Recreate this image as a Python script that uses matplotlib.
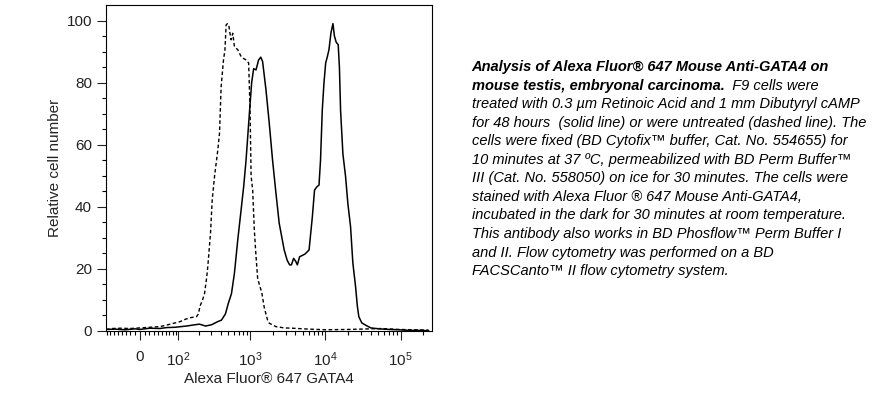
import numpy as np
import matplotlib
matplotlib.use("Agg")
import matplotlib.pyplot as plt

plt.rcParams['font.family'] = ['Liberation Sans', 'DejaVu Sans']
plt.rcParams['mathtext.fontset'] = 'custom'
plt.rcParams['mathtext.rm'] = 'Liberation Sans'
plt.rcParams['mathtext.it'] = 'Liberation Sans:italic'

# Treated cells (solid line): fluorescence intensity vs relative cell number
solid_x = [-84, -57, -32, -10, 0, 21, 44, 62, 88, 134, 175, 206, 250, 301, 364, 411,
           465, 510, 560, 614, 680, 754, 816, 878, 972, 1043, 1109, 1193, 1290, 1380,
           1459, 1618, 1790, 1979, 2197, 2428, 2829, 3097, 3344, 3532, 3775, 4012,
           4237, 4533, 4896, 5363, 6062, 6706, 7168, 7737, 8223, 8612, 9091, 9577,
           10085, 10650, 11153, 11853, 12604, 13186, 13930, 14805, 15363, 15925,
           17101, 18565, 19915, 21617, 23180, 25200, 26620, 27853, 30530, 34180,
           40160, 51270, 69560, 94380, 128044, 173740, 235700]
solid_y = [0.5, 0.6, 0.4, 0.7, 0.5, 0.9, 0.8, 1.1, 1.2, 1.6, 2.0, 2.2, 1.6, 2.0, 3.0, 3.5,
           5.5, 9.0, 12.0, 18.6, 29.3, 39.0, 46.5, 55.0, 70.0, 80.0, 84.5, 84.1, 87.3, 88.2,
           86.8, 77.7, 66.9, 55.1, 44.4, 34.7, 26.1, 22.8, 21.3, 21.3, 23.4, 22.5,
           21.3, 23.9, 24.3, 24.8, 26.1, 36.8, 45.4, 46.5, 47.0, 55.0, 71.2, 80.0,
           86.3, 88.5, 90.6, 96.0, 99.0, 95.0, 93.0, 92.2, 85.0, 71.0,
           57.0, 49.7, 41.0, 33.6, 22.0, 14.3, 8.0, 4.6, 2.6, 1.9,
           1.0, 0.7, 0.5, 0.4, 0.2, 0.2, 0.1]

# Untreated cells (dashed line)
dashed_x = [-84, -65, -44, -21, 0, 21, 44, 62, 84, 106, 129, 154, 186, 199, 209, 227,
            242, 258, 268, 292, 308, 332, 367, 387, 407, 438, 458, 475, 495, 515, 534,
            555, 583, 614, 680, 754, 809, 878, 951, 993, 1025, 1076, 1132, 1185, 1253,
            1319, 1420, 1537, 1700, 1790, 2197, 2829, 3611, 6062, 10173, 20530, 56170,
            94380, 235700]
dashed_y = [0.5, 0.8, 0.9, 0.8, 1.0, 1.2, 1.4, 1.9, 2.5, 3.0, 3.8, 4.3, 4.6, 5.5, 8.0, 10.0,
            12.1, 17.0, 20.7, 31.5, 42.2, 50.0, 58.3, 63.7, 78.7, 87.3, 90.5, 98.6, 99.0, 98.6, 96.0,
            93.8, 95.9, 91.6, 90.6, 88.4, 87.8, 87.3, 86.3, 71.2, 50.0, 45.4, 32.5, 25.0, 17.0,
            15.0, 12.5, 7.5, 3.5, 2.5, 1.4, 1.0, 0.9, 0.6, 0.4, 0.5, 0.8,
            0.5, 0.3]

major_ticks = [0, 1e2, 1e3, 1e4, 1e5]
major_labels = ['0', r'$\mathregular{10^2}$', r'$\mathregular{10^3}$',
                r'$\mathregular{10^4}$', r'$\mathregular{10^5}$']
minor_ticks = ([-80, -70, -60, -50, -40, -30, -20, -10, 10, 20, 30, 40, 50, 60, 70, 80, 90]
               + [m * 10 ** d for d in (2, 3, 4) for m in range(2, 10)] + [2e5])

caption = [
    [("Analysis of Alexa Fluor® 647 Mouse Anti-GATA4 on", 'bold')],
    [("mouse testis, embryonal carcinoma.", 'bold'), ("  F9 cells were", 'normal')],
    [("treated with 0.3 µm Retinoic Acid and 1 mm Dibutyryl cAMP", 'normal')],
    [("for 48 hours  (solid line) or were untreated (dashed line). The", 'normal')],
    [("cells were fixed (BD Cytofix™ buffer, Cat. No. 554655) for", 'normal')],
    [("10 minutes at 37 ºC, permeabilized with BD Perm Buffer™", 'normal')],
    [("III (Cat. No. 558050) on ice for 30 minutes. The cells were", 'normal')],
    [("stained with Alexa Fluor ® 647 Mouse Anti-GATA4,", 'normal')],
    [("incubated in the dark for 30 minutes at room temperature.", 'normal')],
    [("This antibody also works in BD Phosflow™ Perm Buffer I", 'normal')],
    [("and II. Flow cytometry was performed on a BD", 'normal')],
    [("FACSCanto™ II flow cytometry system.", 'normal')],
]

fig = plt.figure(figsize=(8.86, 3.95), dpi=100)
ax = fig.add_axes([106 / 886, 64 / 395, 326 / 886, 326 / 395])

ax.plot(dashed_x, dashed_y, color='black', lw=1.0, ls=(0, (2.6, 1.8)))
ax.plot(solid_x, solid_y, color='black', lw=1.1)

ax.set_xscale('asinh', linear_width=68)
ax.set_xlim(-84, 262144)
ax.set_ylim(0, 105)

ax.set_xticks(major_ticks)
ax.set_xticklabels(major_labels)
ax.set_xticks(minor_ticks, minor=True)
ax.set_xticklabels([], minor=True)
ax.set_yticks([0, 20, 40, 60, 80, 100])
ax.set_yticks(np.arange(0, 105, 5), minor=True)

ax.tick_params(which='major', direction='out', length=6.5, width=0.8,
               labelsize=11, colors='#222222', top=False, right=False)
ax.tick_params(which='minor', direction='out', length=3.2, width=0.8,
               top=False, right=False)
ax.tick_params(axis='x', which='major', pad=7.5)
for s in ax.spines.values():
    s.set_linewidth(0.8)
    s.set_color('black')

ax.set_xlabel('Alexa Fluor® 647 GATA4', fontsize=11, color='#222222', labelpad=2)
ax.set_ylabel('Relative cell number', fontsize=11, color='#222222', labelpad=3)

# caption block on the right
x0 = 471.5 / 886
for i, segs in enumerate(caption):
    yb = 1 - (71 + 18.55 * i) / 395
    prev = None
    for txt, w in segs:
        if prev is None:
            prev = fig.text(x0, yb, txt, fontsize=10.5, style='italic', weight=w,
                            ha='left', va='baseline', color='black')
        else:
            prev = ax.annotate(txt, xy=(1, 0), xycoords=prev, fontsize=10.5,
                               style='italic', weight=w, ha='left', va='bottom',
                               color='black', annotation_clip=False)

fig.savefig('out.png', dpi=100)
